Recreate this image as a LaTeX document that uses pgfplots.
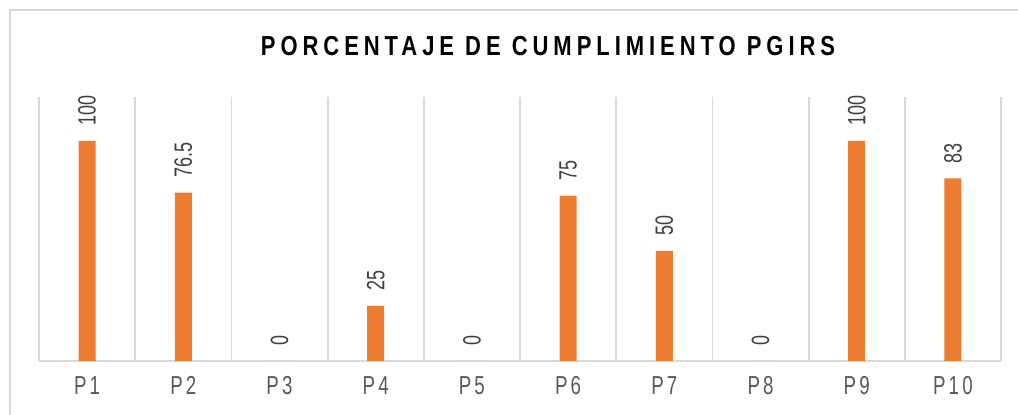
\documentclass[border=0pt]{standalone}
\usepackage{pgfplots}
\pgfplotsset{compat=1.18}
\usepackage{fontspec}
\setmainfont{Liberation Sans}
\newfontfamily\narrow[FakeStretch=0.72]{Liberation Sans}
\newfontfamily\narrowsp[FakeStretch=0.72,LetterSpace=12]{Liberation Sans}
\newfontfamily\titlefont[FakeStretch=0.8,LetterSpace=18]{Liberation Sans}
\definecolor{barorange}{HTML}{ED7D31}
\definecolor{gridgray}{HTML}{D9D9D9}
\definecolor{txtgray}{HTML}{595959}
\definecolor{lblgray}{HTML}{404040}
\begin{document}
\begin{tikzpicture}
\path[use as bounding box] (0,0) rectangle (1018bp,415bp);
\draw[gridgray, line width=2bp] (10bp,0) -- (10bp,405bp) -- (1018bp,405bp);
\node[font=\titlefont\bfseries\fontsize{27.5bp}{32bp}\selectfont, text=black] at (548bp,369bp) {PORCENTAJE DE CUMPLIMIENTO PGIRS};
\begin{axis}[
  at={(39bp,54bp)}, anchor=south west,
  scale only axis, width=962bp, height=264bp,
  xmin=0.5, xmax=10.5, ymin=0, ymax=120,
  axis line style={draw=none},
  ytick=\empty,
  xtick={1,...,10},
  xticklabels={P1,P2,P3,P4,P5,P6,P7,P8,P9,P10},
  minor xtick={0.5,1.5,...,10.5},
  xminorgrids=true,
  minor grid style={gridgray, line width=1.8bp},
  major tick length=0pt, minor tick length=0pt,
  xticklabel style={font=\narrowsp\fontsize{26bp}{30bp}\selectfont, text=txtgray, yshift=-12bp},
  clip=false,
  nodes near coords,
  every node near coord/.append style={rotate=90, anchor=west, inner sep=15bp, font=\narrow\fontsize{25bp}{30bp}\selectfont, text=lblgray},
  point meta=explicit symbolic,
]
\draw[gridgray, line width=2bp] (axis cs:0.5,0) -- (axis cs:10.5,0);
\addplot[ybar, bar width=17bp, fill=barorange, draw=none] coordinates {
(1,100) [100] (2,76.5) [76.5] (3,0) [0] (4,25) [25] (5,0) [0]
(6,75) [75] (7,50) [50] (8,0) [0] (9,100) [100] (10,83) [83]};
\end{axis}
\end{tikzpicture}
\end{document}
